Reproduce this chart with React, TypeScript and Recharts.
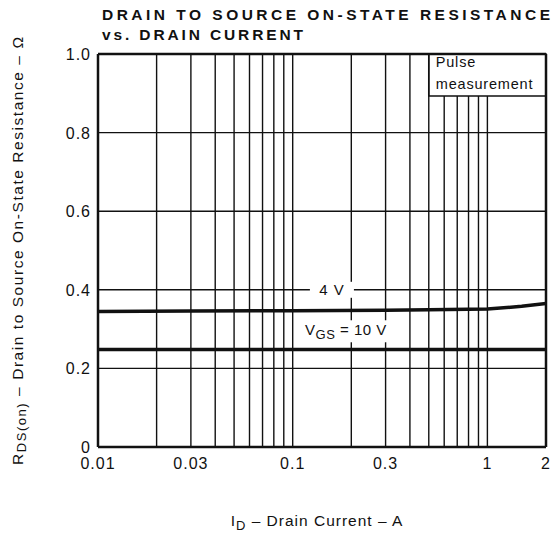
import {
  LineChart,
  Line,
  XAxis,
  YAxis,
  ReferenceLine,
  ReferenceArea,
  ReferenceDot,
} from "recharts";

// I_D (A) sample points
const drainCurrent = [0.01, 0.03, 0.1, 0.3, 0.5, 1, 1.5, 2];
const rdsAt4V = [0.345, 0.346, 0.347, 0.348, 0.349, 0.351, 0.358, 0.365];
const rdsAt10V = [0.248, 0.248, 0.248, 0.248, 0.248, 0.248, 0.248, 0.248];

const xTicks = [0.01, 0.03, 0.1, 0.3, 1, 2];
const xTickLabels = ["0.01", "0.03", "0.1", "0.3", "1", "2"];
const yTicks = [0, 0.2, 0.4, 0.6, 0.8, 1.0];
const yTickLabels = ["0", "0.2", "0.4", "0.6", "0.8", "1.0"];

const xGrid = [
  0.02, 0.03, 0.04, 0.05, 0.06, 0.07, 0.08, 0.09, 0.1, 0.2, 0.3, 0.4, 0.5, 0.6,
  0.7, 0.8, 0.9, 1,
];
const yGrid = [0.2, 0.4, 0.6, 0.8];

// the "Pulse measurement" note box (axis units)
const noteBox = { x1: 0.5, x2: 2, y1: 0.893, y2: 1 };

const data = drainCurrent.map((id, i) => ({
  id,
  v4: rdsAt4V[i],
  v10: rdsAt10V[i],
}));

const FONT = "'Liberation Sans', Arial, Helvetica, sans-serif";
const INK = "#111";

function XTick(props: any) {
  const { x, y, payload } = props;
  const i = xTicks.indexOf(payload.value);
  return (
    <text
      x={x}
      y={y + 22}
      textAnchor="middle"
      fontFamily={FONT}
      fontSize={16}
      letterSpacing={1}
      fill={INK}
    >
      {i >= 0 ? xTickLabels[i] : payload.value}
    </text>
  );
}

function YTick(props: any) {
  const { x, y, payload } = props;
  const i = yTicks.indexOf(payload.value);
  return (
    <text
      x={x - 7}
      y={y + 6}
      textAnchor="end"
      fontFamily={FONT}
      fontSize={16}
      letterSpacing={1}
      fill={INK}
    >
      {i >= 0 ? yTickLabels[i] : payload.value}
    </text>
  );
}

function PulseText(props: any) {
  const { x, y } = props.viewBox;
  return (
    <g>
      <text x={x + 7} y={y + 13} fontFamily={FONT} fontSize={14.5} letterSpacing={0.8} fill={INK}>
        Pulse
      </text>
      <text x={x + 7} y={y + 35} fontFamily={FONT} fontSize={14.5} letterSpacing={0.8} fill={INK}>
        measurement
      </text>
    </g>
  );
}

function Label4V(props: any) {
  const { x, y } = props.viewBox;
  const cx = x + (props.viewBox.width || 0) / 2;
  const cy = y + (props.viewBox.height || 0) / 2;
  return (
    <g>
      <rect x={cx - 22} y={cy - 8} width={44} height={16} fill="#fff" />
      <text
        x={cx}
        y={cy + 5.5}
        textAnchor="middle"
        fontFamily={FONT}
        fontSize={15}
        letterSpacing={1}
        fill={INK}
      >
        4 V
      </text>
    </g>
  );
}

function Label10V(props: any) {
  const { x, y } = props.viewBox;
  const cx = x + (props.viewBox.width || 0) / 2;
  const cy = y + (props.viewBox.height || 0) / 2;
  return (
    <g>
      <rect x={cx - 44} y={cy - 10} width={88} height={22} fill="#fff" />
      <text
        x={cx}
        y={cy + 5}
        textAnchor="middle"
        fontFamily={FONT}
        fontSize={15}
        letterSpacing={0.5}
        fill={INK}
      >
        V
        <tspan fontSize={13} dy={4}>
          GS
        </tspan>
        <tspan dy={-4}> = 10 V</tspan>
      </text>
    </g>
  );
}

export default function App() {
  return (
    <div
      style={{
        position: "absolute",
        left: 0,
        top: 0,
        width: 555,
        height: 537,
        background: "#fff",
      }}
    >
      <LineChart
        width={555}
        height={537}
        data={data}
        margin={{ top: 54, right: 9, bottom: 0, left: 0 }}
      >
        <XAxis
          dataKey="id"
          type="number"
          scale="log"
          domain={[0.01, 2]}
          ticks={xTicks}
          allowDataOverflow
          height={90}
          tickSize={0}
          tickMargin={0}
          tickLine={false}
          axisLine={{ stroke: INK, strokeWidth: 2.5 }}
          tick={<XTick />}
          interval={0}
        />
        <YAxis
          type="number"
          domain={[0, 1]}
          ticks={yTicks}
          width={98}
          tickSize={0}
          tickMargin={0}
          tickLine={false}
          axisLine={{ stroke: INK, strokeWidth: 2.5 }}
          tick={<YTick />}
          interval={0}
        />
        {xGrid.map((v) =>
          v > noteBox.x1 ? (
            <ReferenceLine
              key={`gx-${v}`}
              segment={[
                { x: v, y: 0 },
                { x: v, y: noteBox.y1 },
              ]}
              stroke={INK}
              strokeWidth={1.4}
            />
          ) : (
            <ReferenceLine key={`gx-${v}`} x={v} stroke={INK} strokeWidth={1.4} />
          )
        )}
        {yGrid.map((v) => (
          <ReferenceLine key={`gy-${v}`} y={v} stroke={INK} strokeWidth={1.4} />
        ))}
        <ReferenceLine y={1} stroke={INK} strokeWidth={2.5} />
        <ReferenceLine x={2} stroke={INK} strokeWidth={2.5} />
        <ReferenceArea
          x1={noteBox.x1}
          x2={noteBox.x2}
          y1={noteBox.y1}
          y2={noteBox.y2}
          fill="#fff"
          fillOpacity={1}
          stroke={INK}
          strokeWidth={1.6}
          label={(p: any) => <PulseText {...p} />}
        />
        <Line
          type="linear"
          dataKey="v4"
          stroke={INK}
          strokeWidth={3.5}
          dot={false}
          isAnimationActive={false}
        />
        <Line
          type="linear"
          dataKey="v10"
          stroke={INK}
          strokeWidth={3.5}
          dot={false}
          isAnimationActive={false}
        />
        <ReferenceDot
          x={0.159}
          y={0.4}
          r={1}
          fill="none"
          stroke="none"
          label={(p: any) => <Label4V {...p} />}
        />
        <ReferenceDot
          x={0.1876}
          y={0.297}
          r={1}
          fill="none"
          stroke="none"
          label={(p: any) => <Label10V {...p} />}
        />
      </LineChart>
      <svg
        width={555}
        height={537}
        style={{ position: "absolute", left: 0, top: 0, pointerEvents: "none" }}
      >
        <text
          x={102}
          y={20}
          fontFamily={FONT}
          fontSize={15.5}
          fontWeight="bold"
          textLength={448}
          lengthAdjust="spacing"
          fill={INK}
        >
          DRAIN TO SOURCE ON-STATE RESISTANCE
        </text>
        <text
          x={102}
          y={40}
          fontFamily={FONT}
          fontSize={15.5}
          fontWeight="bold"
          textLength={201}
          lengthAdjust="spacing"
          fill={INK}
        >
          vs. DRAIN CURRENT
        </text>
        <text
          transform="translate(23,251) rotate(-90)"
          textAnchor="middle"
          fontFamily={FONT}
          fontSize={15.5}
          textLength={428}
          lengthAdjust="spacing"
          fill={INK}
        >
          R
          <tspan fontSize={13} dy={3}>
            DS(on)
          </tspan>
          <tspan dy={-3}> – Drain to Source On-State Resistance – Ω</tspan>
        </text>
        <text
          x={317}
          y={526}
          textAnchor="middle"
          fontFamily={FONT}
          fontSize={15.5}
          letterSpacing={1}
          fill={INK}
        >
          I
          <tspan fontSize={13} dy={4}>
            D
          </tspan>
          <tspan dy={-4}> – Drain Current – A</tspan>
        </text>
      </svg>
    </div>
  );
}
